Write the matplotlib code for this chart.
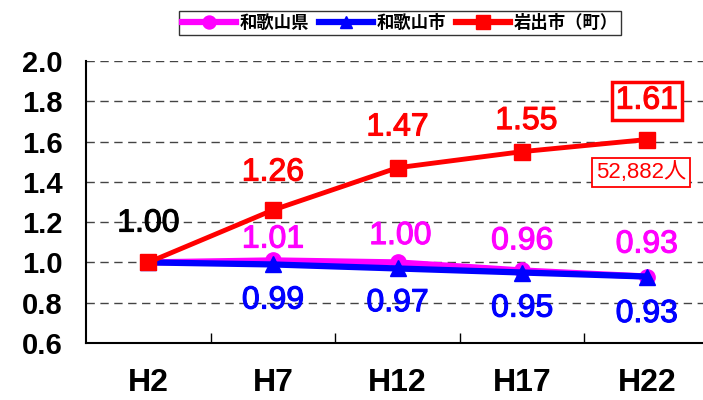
import matplotlib
matplotlib.use("Agg")
import matplotlib.pyplot as plt
import matplotlib.patheffects as pe
from matplotlib.ticker import FixedLocator

categories = ["H2", "H7", "H12", "H17", "H22"]
pref = [1.00, 1.01, 1.00, 0.96, 0.93]
city = [1.00, 0.99, 0.97, 0.95, 0.93]
iwade = [1.00, 1.26, 1.47, 1.55, 1.61]
series_names = ["和歌山県", "和歌山市", "岩出市（町）"]
y_ticks = [0.6, 0.8, 1.0, 1.2, 1.4, 1.6, 1.8, 2.0]
population_note = "52,882人"

NUM = ["Liberation Sans", "Noto Sans CJK JP", "DejaVu Sans"]
CJK = ["Noto Sans CJK JP", "DejaVu Sans"]

fig = plt.figure(figsize=(7.03, 4.0), dpi=100)
ax = fig.add_axes([86 / 703, 57 / 400, 623 / 703, 282 / 400])
x = list(range(len(categories)))

ax.plot(x, pref, color="#FF00FF", lw=4.5, marker="o", ms=11, zorder=3, label=series_names[0])
ax.plot(x, city, color="#0000FF", lw=4.5, marker="^", ms=11, zorder=4, label=series_names[1])
ax.plot(x, iwade, color="#FF0000", lw=3.5, marker="s", ms=11.5, zorder=5, label=series_names[2])

ax.set_xlim(-0.5, len(categories) - 0.5)
ax.set_ylim(0.6, 2.0)
ax.set_yticks(y_ticks)
ax.set_yticklabels([f"{v:.1f}" for v in y_ticks], fontfamily=NUM, fontsize=21, fontweight="bold")
ax.set_xticks(x)
ax.set_xticklabels(categories, fontfamily=["Liberation Sans Narrow", "Liberation Sans"],
                   fontweight="bold", fontsize=23)
ax.xaxis.set_minor_locator(FixedLocator([i + 0.5 for i in range(len(categories) - 1)]))
ax.tick_params(axis="x", which="major", length=0, pad=18)
ax.tick_params(axis="x", which="minor", direction="in", length=7, width=1)
ax.tick_params(axis="y", length=0, pad=17)

for v in y_ticks[1:]:
    ax.axhline(v, color="#444444", lw=1, ls=(0, (6, 4)), zorder=1)

for s in ["top", "right"]:
    ax.spines[s].set_visible(False)
ax.spines["left"].set_linewidth(1.5)
ax.spines["bottom"].set_linewidth(1.5)

# value labels
red_off = [(0, 28), (0, 27), (0, 29), (3, 22), (0, 28)]
mag_off = [None, (0, 15), (2, 19), (0, 21), (0, 23)]
blue_off = [None, (0, -26), (0, -25), (0, -26), (0, -27)]


def thick(color):
    return [pe.withStroke(linewidth=0.8, foreground=color)]


for i, v in enumerate(iwade):
    kw = {}
    color = "#FF0000" if i > 0 else "black"
    if i == len(iwade) - 1:
        kw["bbox"] = dict(boxstyle="square,pad=0.12", fc="white", ec="#FF0000", lw=2.5)
    ax.annotate(f"{v:.2f}", (i, v), xytext=red_off[i], textcoords="offset points",
                ha="center", va="center", fontsize=23, color=color, fontfamily=NUM,
                zorder=6, path_effects=thick(color), **kw)
for i, v in enumerate(pref):
    if mag_off[i] is None:
        continue
    ax.annotate(f"{v:.2f}", (i, v), xytext=mag_off[i], textcoords="offset points",
                ha="center", va="center", fontsize=23, color="#FF00FF", fontfamily=NUM,
                zorder=6, path_effects=thick("#FF00FF"))
for i, v in enumerate(city):
    if blue_off[i] is None:
        continue
    ax.annotate(f"{v:.2f}", (i, v), xytext=blue_off[i], textcoords="offset points",
                ha="center", va="center", fontsize=23, color="#0000FF", fontfamily=NUM,
                zorder=6, path_effects=thick("#0000FF"))

last = len(iwade) - 1
ax.annotate(population_note, (last, iwade[last]), xytext=(-4, -24), textcoords="offset points",
            ha="center", va="center", fontsize=16, color="#FF0000", fontfamily=NUM,
            bbox=dict(boxstyle="square,pad=0.18", fc="white", ec="#FF0000", lw=1.3), zorder=6)

leg = fig.legend(loc="center", bbox_to_anchor=(400 / 703, 1 - 23 / 400), ncol=3,
                 prop={"family": CJK, "weight": "bold", "size": 12.5},
                 frameon=True, fancybox=False, edgecolor="black", handlelength=3.1,
                 columnspacing=0.6, handletextpad=0.2, borderpad=0.2, markerscale=0.85)
leg.get_frame().set_linewidth(1.0)
for h in leg.legend_handles:
    h.set_linewidth(4.5)

fig.savefig("out.png", dpi=100)
